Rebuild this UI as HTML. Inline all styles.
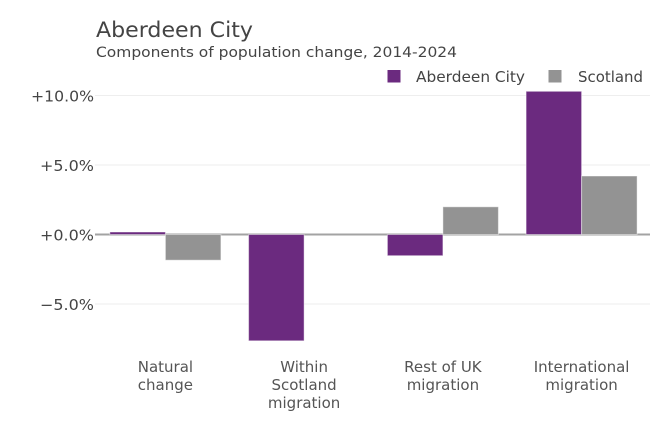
<!DOCTYPE html>
<html>
<head>
<meta charset="utf-8">
<style>
html,body{margin:0;padding:0;background:#fff;}
svg{display:block;font-family:"DejaVu Sans","Liberation Sans",sans-serif;}
</style>
</head>
<body>
<svg width="660" height="444" viewBox="0 0 660 444" xmlns="http://www.w3.org/2000/svg">
<rect width="660" height="444" fill="#fff"/>
<!-- title -->
<text x="96" y="37" font-size="21" fill="#444" textLength="157" lengthAdjust="spacingAndGlyphs">Aberdeen City</text>
<text x="96" y="57" font-size="14.5" fill="#444" textLength="361" lengthAdjust="spacingAndGlyphs">Components of population change, 2014-2024</text>
<!-- legend -->
<rect x="387.5" y="70" width="13" height="12.5" fill="#6b2a7f"/>
<text x="416" y="82" font-size="15" fill="#444" textLength="109" lengthAdjust="spacingAndGlyphs">Aberdeen City</text>
<rect x="548.5" y="70" width="13" height="12.5" fill="#939393"/>
<text x="578" y="82" font-size="15" fill="#444" textLength="65" lengthAdjust="spacingAndGlyphs">Scotland</text>
<!-- gridlines -->
<g stroke="#eeeeee" stroke-width="1">
<line x1="95" y1="95.5" x2="650" y2="95.5"/>
<line x1="95" y1="165" x2="650" y2="165"/>
<line x1="95" y1="304" x2="650" y2="304"/>
</g>
<!-- y tick labels -->
<g font-size="15" fill="#444" text-anchor="end">
<text x="94" y="101.5" textLength="63" lengthAdjust="spacingAndGlyphs">+10.0%</text>
<text x="94" y="171" textLength="54" lengthAdjust="spacingAndGlyphs">+5.0%</text>
<text x="94" y="240.5" textLength="54" lengthAdjust="spacingAndGlyphs">+0.0%</text>
<text x="94" y="310" textLength="54" lengthAdjust="spacingAndGlyphs">−5.0%</text>
</g>
<!-- zero line -->
<line x1="95" y1="234.5" x2="650" y2="234.5" stroke="#a3a3a3" stroke-width="2"/>
<!-- bars -->
<g stroke="rgba(255,255,255,0.45)" stroke-width="1">
<!-- Natural change -->
<rect x="109.9" y="232" width="55.5" height="2.5" fill="#6b2a7f"/>
<rect x="165.4" y="234.5" width="55.5" height="25.7" fill="#939393"/>
<!-- Within Scotland -->
<rect x="248.6" y="234.5" width="55.5" height="106.3" fill="#6b2a7f"/>
<!-- Rest of UK -->
<rect x="387.4" y="234.5" width="55.5" height="21.2" fill="#6b2a7f"/>
<rect x="442.9" y="206.8" width="55.5" height="27.7" fill="#939393"/>
<!-- International -->
<rect x="526.1" y="91.3" width="55.5" height="143.2" fill="#6b2a7f"/>
<rect x="581.6" y="176" width="55.5" height="58.5" fill="#939393"/>
</g>
<!-- x labels -->
<g font-size="15" fill="#555" text-anchor="middle">
<text x="165.4" y="372">Natural</text>
<text x="165.4" y="390">change</text>
<text x="304.1" y="372">Within</text>
<text x="304.1" y="390">Scotland</text>
<text x="304.1" y="408">migration</text>
<text x="442.9" y="372">Rest of UK</text>
<text x="442.9" y="390">migration</text>
<text x="581.6" y="372">International</text>
<text x="581.6" y="390">migration</text>
</g>
</svg>
</body>
</html>
